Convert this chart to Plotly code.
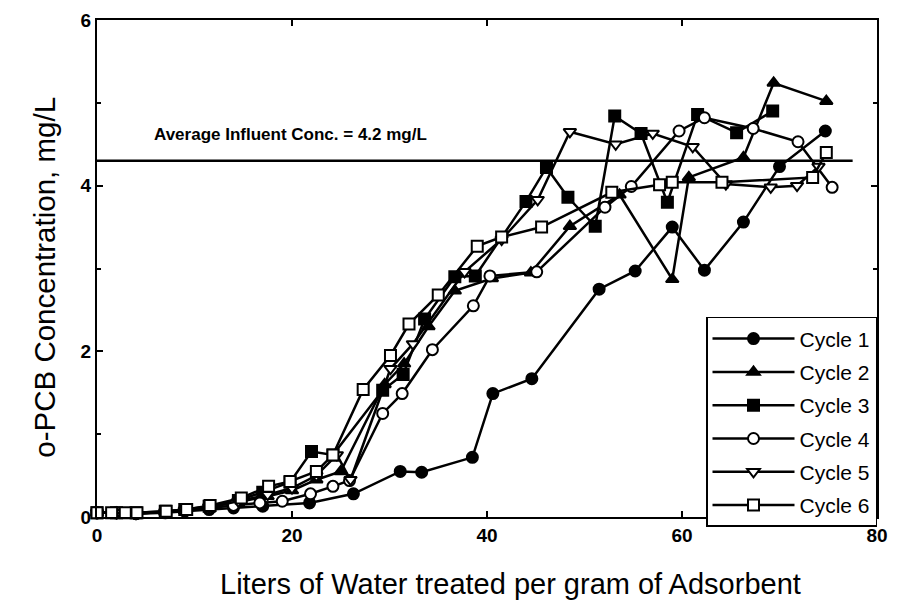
import plotly.graph_objects as go

# liters of water treated per gram (x) and o-PCB concentration mg/L (y)
cycle1_x = [0, 2, 4, 7, 9, 11.5, 14, 17, 21.8, 26.3, 31.1, 33.3, 38.5, 40.6, 44.6, 51.5, 55.2, 59, 62.3, 66.3, 70, 74.7]
cycle1_y = [0.05, 0.05, 0.04, 0.05, 0.07, 0.09, 0.11, 0.13, 0.17, 0.28, 0.55, 0.54, 0.72, 1.49, 1.67, 2.75, 2.97, 3.5, 2.98, 3.56, 4.23, 4.66]

cycle2_x = [0, 2, 4, 7, 9, 11.5, 14.5, 17.5, 20, 22.5, 25, 29.5, 31.5, 34, 36.7, 40.5, 44.5, 48.5, 53.6, 59, 60.7, 66.3, 69.4, 74.8]
cycle2_y = [0.05, 0.05, 0.04, 0.06, 0.08, 0.12, 0.18, 0.25, 0.32, 0.45, 0.55, 1.6, 1.85, 2.3, 2.73, 2.88, 2.95, 3.51, 3.89, 2.87, 4.1, 4.34, 5.24, 5.02]

cycle3_x = [0, 2, 4, 7, 9, 11.5, 14.5, 17, 19.8, 22.0, 24.2, 29.3, 31.4, 33.6, 36.7, 38.8, 44.0, 46.1, 48.3, 51.1, 53.1, 55.8, 58.5, 61.6, 65.6, 69.3]
cycle3_y = [0.05, 0.05, 0.05, 0.07, 0.09, 0.13, 0.2, 0.3, 0.42, 0.79, 0.75, 1.53, 1.72, 2.39, 2.9, 2.91, 3.81, 4.22, 3.86, 3.51, 4.84, 4.63, 3.8, 4.86, 4.64, 4.9]

cycle4_x = [0, 2, 4, 7, 9, 11.5, 14, 16.7, 19, 21.9, 24.2, 25.9, 29.3, 31.3, 34.4, 38.6, 40.3, 45.1, 52.1, 54.8, 59.7, 62.3, 67.3, 71.9, 75.4]
cycle4_y = [0.05, 0.05, 0.04, 0.06, 0.08, 0.11, 0.14, 0.17, 0.19, 0.28, 0.37, 0.44, 1.25, 1.49, 2.02, 2.55, 2.91, 2.96, 3.74, 3.99, 4.66, 4.82, 4.69, 4.53, 3.98]

cycle5_x = [0, 2, 4, 7, 9, 11.5, 14.5, 17.5, 20, 22.5, 24.6, 26, 30.1, 32.4, 37.7, 41.5, 45.2, 48.5, 53.2, 57.0, 61.1, 64.5, 69.1, 71.8, 74.0]
cycle5_y = [0.05, 0.05, 0.05, 0.06, 0.08, 0.12, 0.19, 0.27, 0.35, 0.5, 0.75, 0.45, 1.79, 2.09, 2.96, 3.35, 3.83, 4.65, 4.5, 4.63, 4.47, 4.02, 3.98, 4.0, 4.23]

cycle6_x = [0, 1.5, 2.9, 4.1, 7.1, 9.2, 11.6, 14.8, 17.6, 19.8, 22.5, 24.2, 27.3, 30.1, 32, 35, 39, 41.5, 45.6, 52.8, 57.7, 59.0, 64.1, 73.4, 74.8]
cycle6_y = [0.05, 0.05, 0.05, 0.05, 0.07, 0.09, 0.14, 0.23, 0.37, 0.43, 0.55, 0.75, 1.54, 1.95, 2.33, 2.68, 3.27, 3.38, 3.5, 3.92, 4.01, 4.04, 4.04, 4.1, 4.4]

influent_x = [0, 77.5]
influent_y = [4.3, 4.3]

series = [
    ("Cycle 1", cycle1_x, cycle1_y, "circle", "black"),
    ("Cycle 2", cycle2_x, cycle2_y, "triangle-up", "black"),
    ("Cycle 3", cycle3_x, cycle3_y, "square", "black"),
    ("Cycle 4", cycle4_x, cycle4_y, "circle", "white"),
    ("Cycle 5", cycle5_x, cycle5_y, "triangle-down", "white"),
    ("Cycle 6", cycle6_x, cycle6_y, "square", "white"),
]

FONT = "Liberation Sans, Arial, sans-serif"

fig = go.Figure()

fig.add_trace(
    go.Scatter(
        x=influent_x,
        y=influent_y,
        mode="lines",
        line=dict(color="black", width=2.5),
        showlegend=False,
        hoverinfo="skip",
    )
)

for name, xs, ys, symbol, fill in series:
    fig.add_trace(
        go.Scatter(
            x=xs,
            y=ys,
            name=name,
            legendgroup=name,
            mode="lines+markers",
            line=dict(color="black", width=2.5),
            marker=dict(
                symbol=symbol,
                size=11,
                color=fill,
                line=dict(color="black", width=2),
            ),
            cliponaxis=False,
        )
    )

fig.add_annotation(
    x=5.6,
    y=4.62,
    xref="x",
    yref="y",
    text="<b>Average Influent Conc. = 4.2 mg/L</b>",
    showarrow=False,
    xanchor="left",
    font=dict(family=FONT, size=17, color="black"),
)

# axis titles as paper annotations so they can sit where the scan has them
fig.add_annotation(
    x=0.53,
    y=-0.135,
    xref="paper",
    yref="paper",
    text="Liters of Water treated per gram of Adsorbent",
    showarrow=False,
    xanchor="center",
    yanchor="middle",
    font=dict(family=FONT, size=29, color="black"),
)
fig.add_annotation(
    x=-0.067,
    y=0.483,
    xref="paper",
    yref="paper",
    text="o-PCB Concentration, mg/L",
    textangle=-90,
    showarrow=False,
    xanchor="center",
    yanchor="middle",
    font=dict(family=FONT, size=29.5, color="black"),
)

axis_common = dict(
    showline=True,
    linecolor="black",
    linewidth=2,
    mirror="ticks",
    ticks="inside",
    ticklen=6,
    tickwidth=1.5,
    tickcolor="black",
    showgrid=False,
    zeroline=False,
    automargin=False,
    tickfont=dict(family=FONT, size=19, color="black", weight="bold"),
)

fig.update_xaxes(range=[0, 80], tickvals=[0, 20, 40, 60, 80], **axis_common)
fig.update_yaxes(
    range=[0, 6],
    tickvals=[0, 2, 4, 6],
    minor=dict(dtick=1, ticks="inside", ticklen=4, tickcolor="black"),
    **axis_common,
)

fig.update_layout(
    width=901,
    height=610,
    margin=dict(l=89, r=32, t=12, b=101),
    paper_bgcolor="white",
    plot_bgcolor="white",
    showlegend=True,
    legend=dict(
        x=1,
        y=-0.02,
        xanchor="right",
        yanchor="bottom",
        bordercolor="black",
        borderwidth=1.5,
        bgcolor="white",
        font=dict(family=FONT, size=21, color="black"),
        itemwidth=82,
        tracegroupgap=3,
    ),
)

fig.write_html("out.html")
